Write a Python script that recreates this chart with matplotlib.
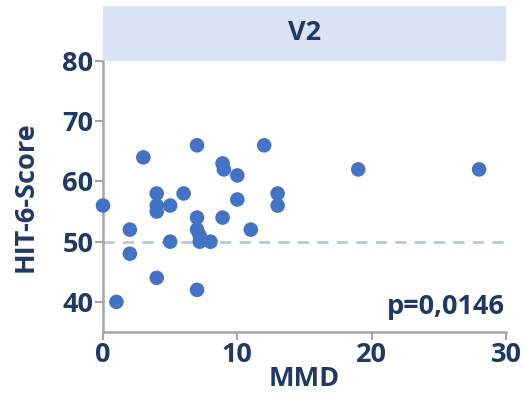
import matplotlib
matplotlib.use("Agg")
import matplotlib.pyplot as plt

mmd = [0, 1, 2, 2, 3, 4, 4, 4, 4, 5, 5, 6, 7, 7, 7, 7.2, 7.2, 7, 8, 8.9, 9, 8.9, 10, 10, 11, 12, 13, 13, 19, 28]
hit6 = [56, 40, 52, 48, 64, 58, 56, 55, 44, 56, 50, 58, 66, 54, 52, 51, 50, 42, 50, 63, 62, 54, 61, 57, 52, 66, 58, 56, 62, 62]
xticks = [0, 10, 20, 30]
yticks = [40, 50, 60, 70, 80]
ref_line = 50
panel_title = "V2"
p_text = "p=0,0146"

navy = "#203864"
gray = "#a6a6a6"
plt.rcParams['font.family'] = ['Open Sans', 'DejaVu Sans']
FS = 19.5

fig = plt.figure(figsize=(5.24, 3.93), dpi=100)
ax = fig.add_axes([103/524, 1-332/393, 403/524, 271/393])

ax.axhline(ref_line, xmin=0, xmax=1, color="#b4c7e7", lw=2, ls=(0, (4, 3)), zorder=1)
ax.scatter(mmd, hit6, s=110, color="#4472c4", edgecolors="none", zorder=3, clip_on=False)

ax.set_xlim(0, 30)
ax.set_ylim(35, 80)
ax.set_xticks(xticks)
ax.set_yticks(yticks)
for s in ["top", "right"]:
    ax.spines[s].set_visible(False)
for s in ["left", "bottom"]:
    ax.spines[s].set_color(gray)
    ax.spines[s].set_linewidth(1.8)
ax.tick_params(axis="both", colors=gray, width=1.5, length=6, direction="out")
ax.tick_params(axis="both", labelcolor=navy, labelsize=FS, pad=1)
for lab in ax.get_xticklabels() + ax.get_yticklabels():
    lab.set_fontweight("bold")

ax.set_xlabel("MMD", fontsize=FS, fontweight="bold", color=navy, labelpad=-1)
ax.set_ylabel("HIT-6-Score", fontsize=FS, fontweight="bold", color=navy, labelpad=17)

ax.text(29.9, 39.2, p_text, ha="right", va="center", fontsize=FS, fontweight="bold", color=navy)

strip = fig.add_axes([103/524, 1-61/393, 403/524, 55/393])
strip.set_facecolor("#dae3f3")
strip.set_xticks([]); strip.set_yticks([])
for s in strip.spines.values():
    s.set_visible(False)
strip.text(0.5, 0.5, panel_title, ha="center", va="center", fontsize=FS, fontweight="bold", color=navy, transform=strip.transAxes)

fig.savefig("out.png", dpi=100)
